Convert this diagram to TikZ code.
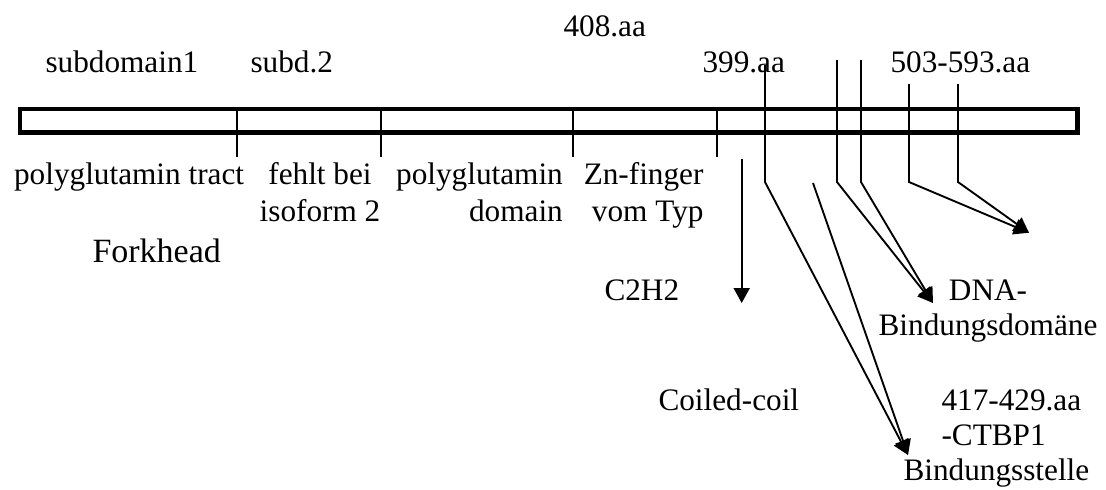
\documentclass[tikz,border=0pt]{standalone}
\usepackage{fontspec}
\setmainfont{Liberation Serif}
\usetikzlibrary{arrows.meta}
\begin{document}
\begin{tikzpicture}[x=0.4pt,y=-0.4pt,
  lbl/.style={inner sep=0pt,font=\fontsize{12.5}{14}\selectfont},
  under/.style={lbl,font=\fontsize{12.5}{14.7}\selectfont},
  bar/.style={draw,line width=1.75pt},
  lin/.style={line width=0.75pt},
  arr/.style={lin,-{Triangle[length=6pt,width=6.4pt]}}]
  \useasboundingbox (0,0) rectangle (1106,489);
  \draw[bar] (20,109) rectangle (1077.5,132.5);
  \foreach \x in {237,381,573,717}
    \draw[lin] (\x,109) -- (\x,157);
  \node[lbl,anchor=base west] (aa408) at (563,36) {408.aa};
  \node[lbl,anchor=base west] (sub1) at (45,72) {subdomain1};
  \node[lbl,anchor=base west] (sub2) at (250,72) {subd.2};
  \node[lbl,anchor=base west] (aa399) at (702,72) {399.aa};
  \node[lbl,anchor=base west] (aa503) at (890,72) {503-593.aa};
  \node[under,anchor=base west] (polyq) at (13.6,184) {polyglutamin tract};
  \node[under,anchor=base,align=center] (isof) at (320,221) {fehlt bei\\isoform 2};
  \node[under,anchor=base east,align=right] (polydom) at (563.3,221) {polyglutamin\\domain};
  \node[under,anchor=base east,align=right] (znf) at (704,221) {Zn-finger\\vom Typ};
  \node[lbl,anchor=base west,font=\fontsize{13.6}{16}\selectfont] (fork) at (92,262) {Forkhead};
  \node[lbl,anchor=base west] (c2h2) at (604,300) {C2H2};
  \node[lbl,anchor=base west] (coil) at (658,410) {Coiled-coil};
  \node[lbl,anchor=base,align=center,font=\fontsize{12.5}{13.7}\selectfont] (dna) at (988,335) {DNA-\\Bindungsdomäne};
  \node[lbl,anchor=base west,align=left] (ctbp) at (903,480)
    {\hspace*{15.2pt}417-429.aa\\\hspace*{15.2pt}-CTBP1\\Bindungsstelle};
  \coordinate (zf) at (741.7,159);
  \coordinate (zftip) at (741.7,303);
  \coordinate (cc1) at (765,65);
  \coordinate (cc1b) at (765,182);
  \coordinate (cc2) at (813,183);
  \coordinate (cctip) at (908,455);
  \coordinate (db1) at (837,60);
  \coordinate (db1b) at (837,182);
  \coordinate (db2) at (861,60);
  \coordinate (db2b) at (861,182);
  \coordinate (dbtip) at (933,303);
  \coordinate (rg1) at (909,84);
  \coordinate (rg1b) at (909,182);
  \coordinate (rg2) at (958,84);
  \coordinate (rg2b) at (958,182);
  \coordinate (rgtip) at (1029,232.7);
  \draw[arr] (zf) -- (zftip);
  \draw[arr] (cc1) -- (cc1b) -- (cctip);
  \draw[arr] (cc2) -- (cctip);
  \draw[arr] (db1) -- (db1b) -- (dbtip);
  \draw[arr] (db2) -- (db2b) -- (dbtip);
  \draw[arr] (rg1) -- (rg1b) -- (rgtip);
  \draw[arr] (rg2) -- (rg2b) -- (rgtip);
\end{tikzpicture}
\end{document}
